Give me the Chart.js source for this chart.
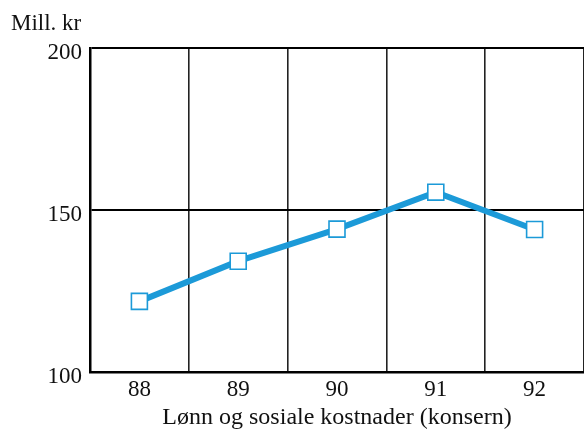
<!DOCTYPE html>
<html lang="no">
<head>
    <meta charset="UTF-8">
    <title>Lønn og sosiale kostnader</title>
    <script src="https://cdn.jsdelivr.net/npm/chart.js"></script>
    <style>
        html, body {margin: 0; padding: 0; background: #fff; overflow: hidden}
        canvas {display: block}
    </style>
</head>
<body>
    <canvas id="chart" width="584" height="430"></canvas>
    <script>
        // data
        const years = ['88', '89', '90', '91', '92']
        const kostnader = [121.8, 134.2, 144.1, 155.5, 144]
        const yTicks = [100, 150, 200]
        const unitLabel = 'Mill. kr'
        const xTitle = 'Lønn og sosiale kostnader (konsern)'

        const blue = '#1c9ad8'
        const serif = '"Liberation Serif", "DejaVu Serif", serif'

        // "Mill. kr" above the y axis
        const unitPlugin = {
            id: 'unit',
            afterDraw(chart) {
                let ctx = chart.ctx
                ctx.save()
                ctx.font = '23px ' + serif
                ctx.fillStyle = '#111'
                ctx.textBaseline = 'alphabetic'
                ctx.fillText(unitLabel, 11, 30)
                ctx.restore()
            }
        }

        new Chart(document.getElementById('chart'), {
            type: 'line',
            data: {
                labels: years,
                datasets: [{
                    data: kostnader,
                    borderColor: blue,
                    borderWidth: 6,
                    pointStyle: 'rect',
                    pointRadius: 11.3,
                    pointHoverRadius: 11.3,
                    pointBackgroundColor: '#fff',
                    pointBorderColor: blue,
                    pointBorderWidth: 1.6,
                    tension: 0
                }]
            },
            options: {
                responsive: false,
                animation: false,
                layout: {autoPadding: false, padding: {top: 48, left: 0, right: 0, bottom: 0}},
                plugins: {legend: {display: false}, tooltip: {enabled: false}},
                scales: {
                    x: {
                        offset: true,
                        afterFit: s => { s.height = 58; s.paddingRight = 0; s.paddingLeft = 0 },
                        grid: {
                            offset: true,
                            drawTicks: false,
                            color: '#222',
                            lineWidth: 1.6
                        },
                        border: {color: '#000', width: 2.5},
                        ticks: {padding: 4, color: '#111', font: {family: serif, size: 23}},
                        title: {
                            display: true,
                            text: xTitle,
                            color: '#111',
                            padding: {top: 0, bottom: 0},
                            font: {family: serif, size: 24, lineHeight: 1}
                        }
                    },
                    y: {
                        min: 100,
                        max: 200,
                        afterFit: s => { s.width = 90 },
                        afterBuildTicks: s => { s.ticks = yTicks.map(v => ({value: v})) },
                        grid: {drawTicks: false, color: '#000', lineWidth: 2},
                        border: {color: '#000', width: 2.5},
                        ticks: {padding: 8, labelOffset: 5, color: '#111', font: {family: serif, size: 23}}
                    }
                }
            },
            plugins: [unitPlugin]
        })
    </script>
</body>
</html>
